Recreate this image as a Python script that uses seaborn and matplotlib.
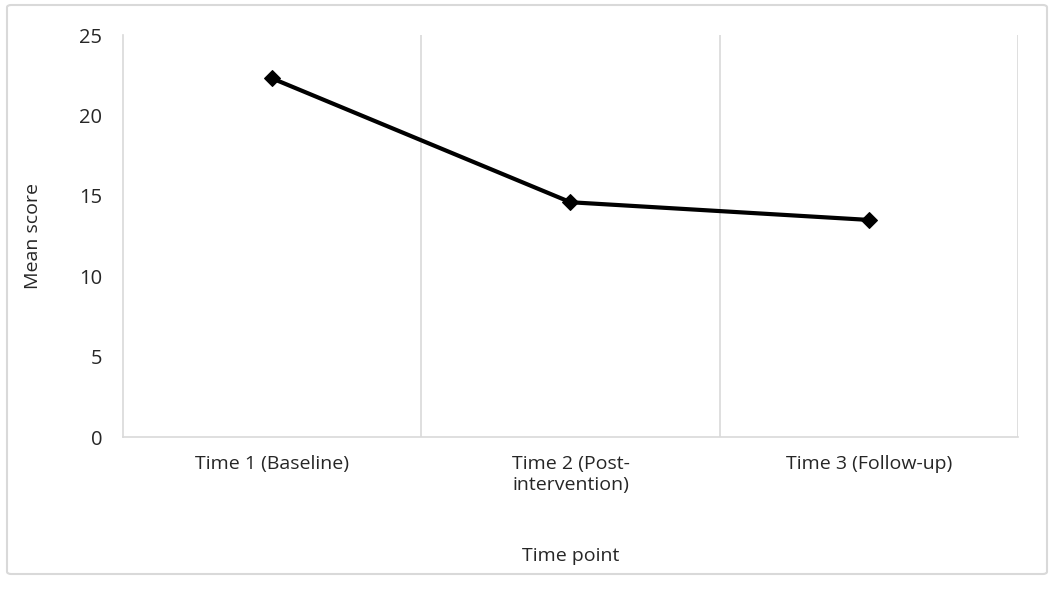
import pandas as pd
import seaborn as sns
import matplotlib.pyplot as plt
from matplotlib.patches import FancyBboxPatch

# Chart values
time_points = ['Time 1 (Baseline)', 'Time 2 (Post-\nintervention)', 'Time 3 (Follow-up)']
mean_scores = [22.3, 14.6, 13.5]
y_ticks = [0, 5, 10, 15, 20, 25]

df = pd.DataFrame({'Time point': time_points, 'Mean score': mean_scores})

sns.set_style('white')
plt.rcParams['font.family'] = ['Open Sans', 'DejaVu Sans']

grid_color = '#d9d9d9'
text_color = '#262626'

fig = plt.figure(figsize=(10.55, 6.13), dpi=100)
ax = fig.add_axes([0.1166, 0.2871, 0.8483, 0.6558])

# Outer chart border
fig.patches.append(FancyBboxPatch((7 / 1055, 1 - 574 / 613), 1040 / 1055, 569 / 613,
                                  boxstyle='round,pad=0,rounding_size=0.004',
                                  transform=fig.transFigure, facecolor='none',
                                  edgecolor=grid_color, linewidth=1.5, zorder=-1))

sns.lineplot(data=df, x='Time point', y='Mean score', ax=ax, sort=False,
             color='black', linewidth=3, marker='D', markersize=8.5,
             markeredgecolor='black')

ax.set_xlim(-0.5, len(time_points) - 0.5)
ax.set_ylim(0, 25)
ax.set_yticks(y_ticks)
ax.set_xticks(range(len(time_points)))
ax.set_xticklabels(time_points, fontsize=14, color=text_color)
ax.tick_params(axis='y', labelsize=14.5, colors=text_color, length=0, pad=15)
ax.tick_params(axis='x', length=0, pad=13)

# Vertical gridlines between categories
for b in [0.5, 1.5, 2.5]:
    ax.axvline(b, color=grid_color, linewidth=1.2, zorder=0)

for side in ['top', 'right']:
    ax.spines[side].set_visible(False)
for side in ['left', 'bottom']:
    ax.spines[side].set_color(grid_color)
    ax.spines[side].set_linewidth(1.2)

ax.set_xlabel('Time point', fontsize=14, color=text_color)
ax.set_ylabel('Mean score', fontsize=14, color=text_color)
ax.xaxis.label.set_va('center')
ax.yaxis.label.set_va('center')
ax.xaxis.set_label_coords(0.5, (437 - 556) / 402)
ax.yaxis.set_label_coords((33 - 123) / 895, 0.5)

fig.savefig('out.png', dpi=100)
